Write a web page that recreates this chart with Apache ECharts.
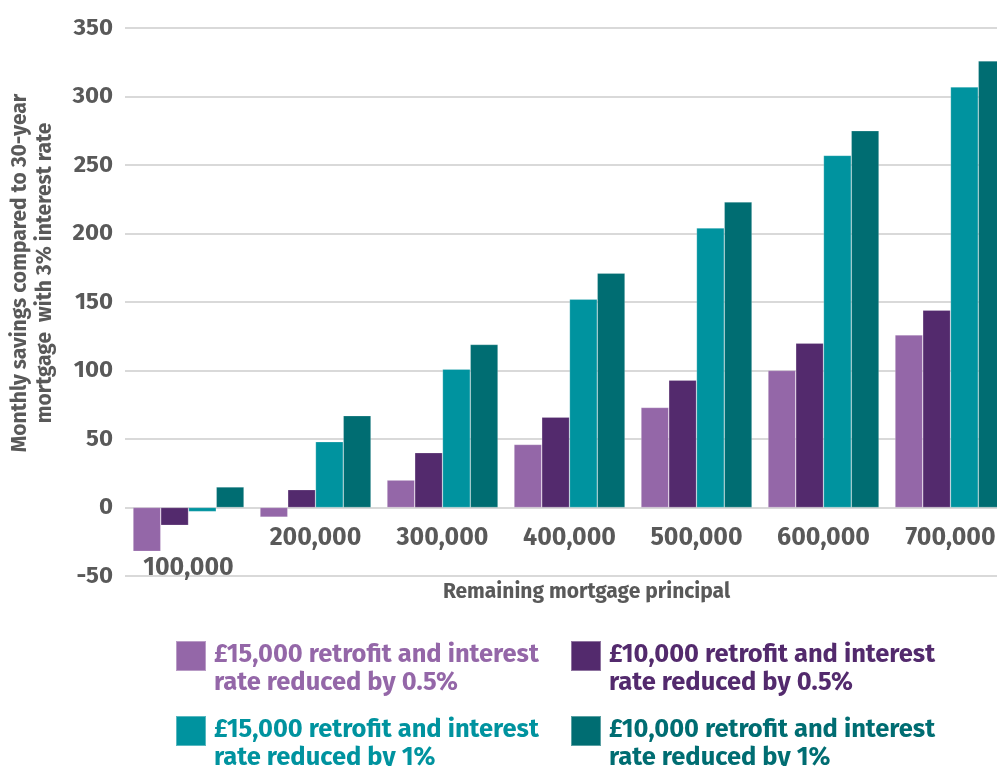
<!DOCTYPE html>
<html>
<head>
<meta charset="utf-8">
<script src="https://cdn.jsdelivr.net/npm/echarts@6/dist/echarts.min.js"></script>
<style>
html,body{margin:0;padding:0;background:#fff;}
#chart{width:997px;height:766px;}
</style>
</head>
<body>
<div id="chart"></div>
<script>
const categories = ['100,000','200,000','300,000','400,000','500,000','600,000','700,000'];
const seriesNames = [
  '£15,000 retrofit and interest\nrate reduced by 0.5%',
  '£10,000 retrofit and interest\nrate reduced by 0.5%',
  '£15,000 retrofit and interest\nrate reduced by 1%',
  '£10,000 retrofit and interest\nrate reduced by 1%'
];
const retrofit15k_05 = [-32, -7, 20, 46, 73, 100, 126];
const retrofit10k_05 = [-13, 13, 40, 66, 93, 120, 144];
const retrofit15k_1 = [-3, 48, 101, 152, 204, 257, 307];
const retrofit10k_1 = [15, 67, 119, 171, 223, 275, 326];
const yTicks = [-50, 0, 50, 100, 150, 200, 250, 300, 350];

const colors = ['#9467A8', '#532A6D', '#00939F', '#006D72'];
const values = [retrofit15k_05, retrofit10k_05, retrofit15k_1, retrofit10k_1];
const FONT = '"Fira Sans", "Noto Sans", sans-serif';
const axisColor = '#595959';

const chart = echarts.init(document.getElementById('chart'), null, {renderer: 'canvas'});

const legendPos = [
  {left: 175, top: 640},
  {left: 570, top: 640},
  {left: 175, top: 715},
  {left: 570, top: 715}
];
const iconPath = 'path://M0,0L30,0L30,30L0,30Z M33,56L33.01,56L33.01,56.01Z';

const option = {
  animation: false,
  grid: {left: 125, right: -17, top: 28, bottom: 190, containLabel: false, outerBoundsMode: 'none'},
  legend: seriesNames.map((n, i) => ({
    data: [n],
    left: legendPos[i].left,
    top: legendPos[i].top,
    orient: 'vertical',
    itemWidth: 33,
    itemHeight: 56,
    icon: iconPath,
    itemGap: 0,
    padding: 0,
    selectedMode: false,
    textStyle: {
      color: colors[i],
      fontFamily: FONT,
      fontWeight: 'bold',
      fontSize: 25.5,
      lineHeight: 28
    }
  })),
  xAxis: {
    type: 'category',
    data: categories,
    position: 'bottom',
    axisLine: {show: false, onZero: false},
    axisTick: {show: false},
    axisLabel: {
      interval: 0,
      hideOverlap: false,
      color: axisColor,
      fontFamily: FONT,
      fontWeight: 'bold',
      fontSize: 25,
      margin: -50,
      formatter: function (v, idx) {
        return idx === 0 ? '{low|' + v + '}' : v;
      },
      rich: {
        low: {
          color: axisColor,
          fontFamily: FONT,
          fontWeight: 'bold',
          fontSize: 25,
          padding: [30, 0, 0, 0]
        }
      }
    },
    name: 'Remaining mortgage principal',
    nameLocation: 'middle',
    nameGap: 16,
    nameMoveOverlap: false,
    nameTextStyle: {
      color: axisColor,
      fontFamily: FONT,
      fontWeight: 'bold',
      fontSize: 21,
      verticalAlign: 'middle',
      padding: [0, 0, 0, 34]
    }
  },
  yAxis: {
    type: 'value',
    min: -50,
    max: 350,
    interval: 50,
    axisLine: {show: false},
    axisTick: {show: false},
    splitLine: {lineStyle: {color: '#d9d9d9', width: 2}},
    axisLabel: {
      color: axisColor,
      fontFamily: FONT,
      fontWeight: 'bold',
      fontSize: 24,
      margin: 12,
      formatter: function (v) { return yTicks.indexOf(v) >= 0 ? String(v) : ''; }
    },
    name: 'Monthly savings compared to 30-year\nmortgage  with 3% interest rate',
    nameLocation: 'middle',
    nameRotate: 90,
    nameGap: 67,
    nameMoveOverlap: false,
    nameTextStyle: {
      color: axisColor,
      fontFamily: FONT,
      fontWeight: 'bold',
      fontSize: 21,
      lineHeight: 25,
      padding: [0, 0, 0, 58]
    }
  },
  series: values.map((arr, i) => ({
    name: seriesNames[i],
    type: 'bar',
    data: arr,
    barGap: '0%',
    barCategoryGap: '12.6%',
    itemStyle: {color: colors[i], borderColor: 'rgba(255,255,255,0.35)', borderWidth: 0.6}
  }))
};

chart.setOption(option);
</script>
</body>
</html>
